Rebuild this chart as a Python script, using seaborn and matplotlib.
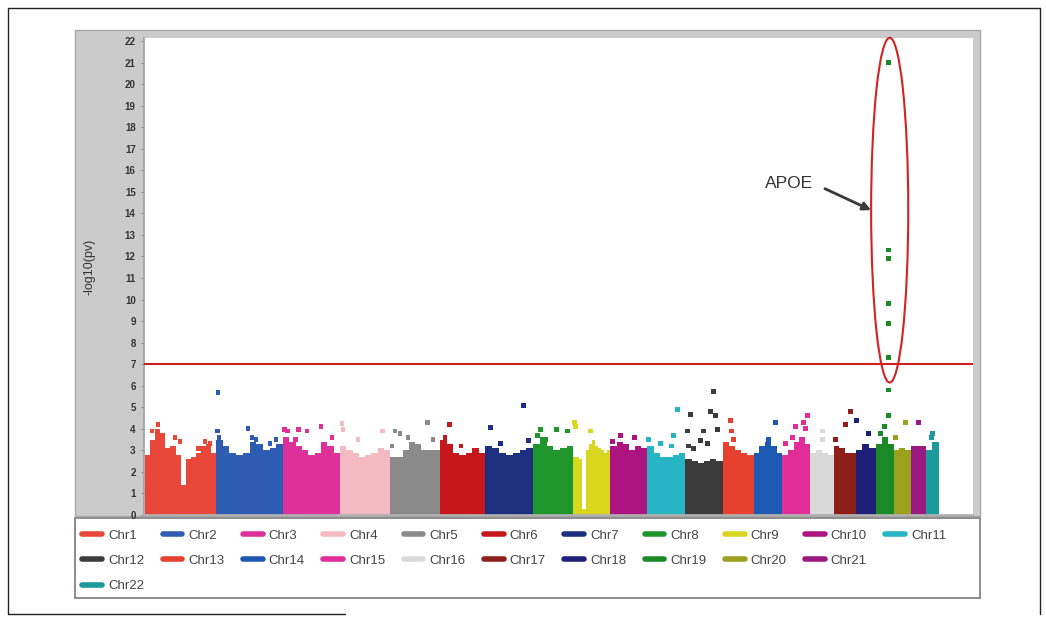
import numpy as np
import pandas as pd
import seaborn as sns
import matplotlib.pyplot as plt
from matplotlib.patches import Rectangle, Ellipse
from matplotlib.lines import Line2D

sns.set_theme(style="white")
plt.rcParams["font.family"] = ["Liberation Sans", "DejaVu Sans"]

W, H = 1046, 623

# --- datos ---
chroms = [f"Chr{i}" for i in range(1, 23)]
chr_len = [258, 244, 207, 182, 182, 164, 175, 145, 135, 135, 138,
           135, 113, 105, 102, 84, 80, 73, 65, 62, 55, 47]
chr_colors = ["#e8473a", "#2f5cb3", "#dd3098", "#f5b9c2", "#8a8a8a", "#c8171c",
              "#1d2f7e", "#1f962a", "#d8d61e", "#ad1480", "#27b4c4", "#3b3b3b",
              "#e8402e", "#1d58b2", "#e22d98", "#d9d9d9", "#8e2019", "#1f1f78",
              "#1b8a26", "#9aa11d", "#9b1a82", "#1a9a98"]

# altura del bloque denso de cada cromosoma (segmentos iguales)
block_tops = [
    [2.8, 3.5, 4.0, 3.6, 3.1, 3.2, 2.8, 1.4, 2.6, 2.7, 2.9, 3.2, 3.3, 2.9],
    [3.5, 3.2, 2.9, 2.8, 2.9, 3.4, 3.3, 3.0, 3.1, 3.3],
    [3.6, 3.4, 3.2, 3.0, 2.8, 2.9, 3.4, 3.2, 2.9],
    [3.2, 3.0, 2.9, 2.7, 2.8, 2.9, 3.1, 3.0],
    [2.7, 2.7, 3.0, 3.4, 3.3, 3.0, 3.0, 3.0],
    [3.5, 3.3, 2.9, 2.8, 2.9, 3.1, 2.9],
    [3.2, 3.1, 2.9, 2.8, 2.9, 3.0, 3.1],
    [3.3, 3.6, 3.2, 3.0, 3.1, 3.2],
    [2.7, 2.7, 2.6, 0.3, 3.0, 3.3, 3.5, 3.2, 3.1, 3.0, 2.9, 3.0],
    [3.2, 3.4, 3.3, 3.0, 3.2, 3.1],
    [3.2, 2.9, 2.7, 2.7, 2.8, 2.9],
    [2.6, 2.5, 2.4, 2.5, 2.6, 2.5],
    [3.4, 3.2, 3.0, 2.9, 2.8],
    [2.9, 3.2, 3.4, 3.2, 2.9],
    [2.8, 3.0, 3.4, 3.6, 3.3],
    [2.9, 3.0, 2.9, 2.8],
    [3.2, 3.1, 2.9, 2.9],
    [3.0, 3.3, 3.1],
    [3.3, 3.6, 3.3],
    [3.0, 3.1, 3.0],
    [3.2, 3.2],
    [3.0, 3.4],
]

# puntos sueltos por encima de los bloques (cromosoma, posicion Mb, -log10 p)
out_chr = ([1] * 8 + [2] * 8 + [3] * 7 + [4] * 4 + [5] * 6 + [6] * 3 + [7] * 4 +
           [8] * 5 + [9] * 3 + [10] * 3 + [11] * 5 + [12] * 11 + [13] * 3 +
           [14] * 2 + [15] * 6 + [16] * 2 + [17] * 3 + [18] * 2 + [19] * 2 +
           [20] * 2 + [21] * 1 + [22] * 2)
out_pos = [25, 47, 62, 109, 127, 193, 218, 236,
           7, 4, 11, 116, 131, 145, 196, 218,
           4, 15, 55, 87, 138, 178, 44,
           7, 11, 65, 153,
           18, 36, 65, 135, 156, 7,
           33, 76, 18,
           18, 138, 156, 55,
           25, 84, 124, 44, 15,
           4, 7, 62,
           36, 7, 87,
           109, 4, 95, 87, 47,
           102, 18, 91, 109, 65, 116, 7, 55, 80, 29, 11,
           29, 33, 40,
           80, 55,
           47, 36, 11, 91, 76, 84,
           44, 44,
           62, 44, 7,
           4, 47,
           33, 18,
           44, 7,
           29,
           25, 22]
out_val = [3.9, 4.2, 3.7, 3.6, 3.4, 3.1, 3.4, 3.3,
           5.7, 3.9, 3.6, 4.0, 3.6, 3.5, 3.3, 3.5,
           3.95, 3.9, 3.95, 3.9, 4.1, 3.6, 3.5,
           4.25, 3.95, 3.5, 3.9,
           3.9, 3.8, 3.6, 4.3, 3.5, 3.2,
           4.2, 3.2, 3.6,
           4.05, 5.1, 3.45, 3.3,
           3.95, 3.95, 3.9, 3.5, 3.7,
           4.3, 4.1, 3.9,
           3.7, 3.4, 3.6,
           4.9, 3.5, 3.7, 3.2, 3.3,
           5.75, 4.65, 4.8, 4.6, 3.9, 3.95, 3.9, 3.45, 3.3, 3.1, 3.2,
           4.4, 3.9, 3.5,
           4.3, 3.5,
           4.1, 3.6, 3.3, 4.6, 4.3, 4.0,
           3.9, 3.5,
           4.8, 4.2, 3.5,
           4.4, 3.8,
           4.1, 3.8,
           4.3, 3.6,
           4.3,
           3.8, 3.6]

# senal APOE en Chr19
apoe_chr = 19
apoe_pos = 47
apoe_val = [21.0, 12.3, 11.9, 9.8, 8.9, 7.3, 5.8, 4.6]

threshold = 7
y_ticks = list(range(0, 23))

# --- posiciones acumuladas ---
genome_offset = 4
starts = genome_offset + np.concatenate([[0], np.cumsum(chr_len)[:-1]])
palette = dict(zip(chroms, chr_colors))

pts = pd.DataFrame({
    "chrom": [chroms[c - 1] for c in out_chr] + [chroms[apoe_chr - 1]] * len(apoe_val),
    "x": [starts[c - 1] + p for c, p in zip(out_chr, out_pos)]
         + [starts[apoe_chr - 1] + apoe_pos] * len(apoe_val),
    "p": out_val + apoe_val,
})

def fx(px):
    return px / W

def fy(py):
    return 1 - py / H

fig = plt.figure(figsize=(W / 100, H / 100), dpi=100)
fig.patch.set_facecolor("white")

# marco gris del panel y caja de leyenda
fig.add_artist(Rectangle((fx(75), fy(516)), fx(980) - fx(75), fy(30) - fy(516),
                         transform=fig.transFigure, fc="#cbcbcb", ec="#a8a8a8",
                         lw=1, zorder=0))
fig.add_artist(Rectangle((fx(75), fy(598)), fx(980) - fx(75), fy(518) - fy(598),
                         transform=fig.transFigure, fc="white", ec="#8c8c8c",
                         lw=1.4, zorder=0))
# borde exterior negro
for xs, ys in [((8, 8), (8, 614)), ((8, 1040), (8, 8)),
               ((1040, 1040), (8, 614)), ((8, 345), (614, 614))]:
    fig.add_artist(Line2D([fx(v) for v in xs], [fy(v) for v in ys],
                          transform=fig.transFigure, color="#222222", lw=1))

ax = fig.add_axes([fx(144), fy(515), fx(973) - fx(144), fy(38) - fy(515)])
ax.set_facecolor("white")
ax.set_zorder(2)

# bloques densos
for i, tops in enumerate(block_tops):
    n = len(tops)
    w = chr_len[i] / n
    lefts = starts[i] + w * np.arange(n)
    ax.bar(lefts, tops, width=w, align="edge", color=chr_colors[i], linewidth=0)

sns.scatterplot(data=pts, x="x", y="p", hue="chrom", palette=palette,
                marker="s", s=12, linewidth=0, legend=False, ax=ax, zorder=3)

ax.axhline(threshold, color="#cc2222", lw=1.5, zorder=4)

ax.set_xlim(0, 3015)
ax.set_ylim(0, 22.14)

apoe_x = starts[apoe_chr - 1] + apoe_pos
ell_w, ell_h, ell_y = 135, 16, 14.15
ell_x = apoe_x + 4
ax.add_patch(Ellipse((ell_x, ell_y), width=ell_w, height=ell_h, fill=False,
                     ec="#d42222", lw=1.5, zorder=5, clip_on=False))
ax.annotate("APOE", xy=(ell_x - ell_w / 2, ell_y), xytext=(-42, 19.5),
            textcoords="offset points", ha="right", va="center",
            fontsize=12.5, color="#333333",
            arrowprops=dict(arrowstyle="-|>", color="#3a3a3a", lw=2,
                            mutation_scale=12, shrinkA=7, shrinkB=0,
                            relpos=(1.0, 0.5)))

ax.set_xticks([])
ax.set_yticks(y_ticks)
ax.set_yticklabels([str(t) for t in y_ticks], fontsize=7, fontweight="bold",
                   color="#333333")
ax.tick_params(axis="y", length=2, width=0.8, color="#888888", pad=4, left=True)
ax.set_xlabel("")
ax.set_ylabel("-log10(pv)", fontsize=9, color="#333333")
ax.yaxis.set_label_coords(-0.058, 0.52)
for side in ["top", "right"]:
    ax.spines[side].set_visible(False)
ax.spines["left"].set_color("#a0a0a0")
ax.spines["bottom"].set_color("#b0b0b0")

# leyenda: fila 1 Chr1-Chr11, fila 2 Chr12-Chr21, fila 3 Chr22
ncol = 11
rows = [chroms[0:11], chroms[11:21], chroms[21:22]]
handles, labels = [], []
for j in range(ncol):
    for row in rows:
        if j < len(row):
            k = chroms.index(row[j])
            handles.append(Line2D([], [], color=chr_colors[k], lw=4))
            labels.append(row[j])
        else:
            handles.append(Line2D([], [], color="none", lw=0))
            labels.append(" ")
fig.legend(handles, labels, ncol=ncol, loc="upper left",
           bbox_to_anchor=(fx(77), fy(524)), frameon=False, fontsize=9.5,
           handlelength=1.5, handletextpad=0.45, columnspacing=1.4,
           labelspacing=1.0, labelcolor="#444444", borderaxespad=0)

fig.savefig("out.png", dpi=100)
